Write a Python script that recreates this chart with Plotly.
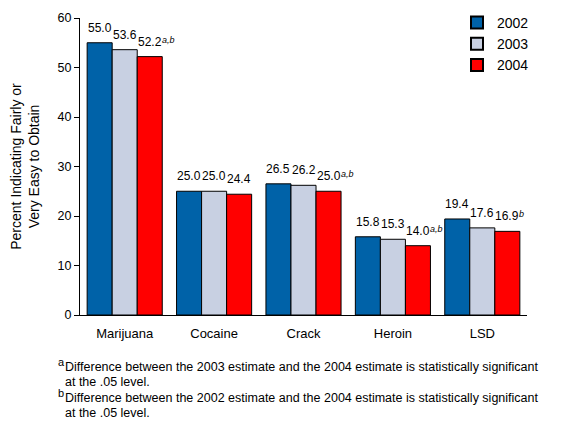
import plotly.graph_objects as go

categories = ["Marijuana", "Cocaine", "Crack", "Heroin", "LSD"]
years = ["2002", "2003", "2004"]
v2002 = [55.0, 25.0, 26.5, 15.8, 19.4]
v2003 = [53.6, 25.0, 26.2, 15.3, 17.6]
v2004 = [52.2, 24.4, 25.0, 14.0, 16.9]
sup2002 = ["", "", "", "", ""]
sup2003 = ["", "", "", "", ""]
sup2004 = ["a,b", "", "a,b", "a,b", "b"]
colors = ["#0062A8", "#C8D0E2", "#FF0000"]

L, T, W, H = 72, 10, 447, 297
OFF = 8  # page body margin
BARGAP = 0.16
BAR_PX = W / len(categories) * (1 - BARGAP) / 3


def px(xp):
    return ((xp - OFF) - L) / W


def py(yp):
    return (T + H - (yp - OFF)) / H


fig = go.Figure()
series = [(years[0], v2002, colors[0], sup2002),
          (years[1], v2003, colors[1], sup2003),
          (years[2], v2004, colors[2], sup2004)]
for i, (yr, vals, col, sups) in enumerate(series):
    fig.add_trace(go.Bar(
        x=categories, y=vals, name=yr,
        marker=dict(color=col, line=dict(color="black", width=1)),
    ))
    off = (i - 1) * BAR_PX
    for c, v, s in zip(categories, vals, sups):
        fig.add_annotation(x=c, y=v, xref="x", yref="y", text=f"{v:.1f}",
                           showarrow=False, xanchor="center", yanchor="bottom",
                           xshift=off, yshift=6, font=dict(size=12))
        if s:
            fig.add_annotation(x=c, y=v, xref="x", yref="y", text=f"<i>{s}</i>",
                               showarrow=False, xanchor="left", yanchor="bottom",
                               xshift=off + 10, yshift=10, font=dict(size=9))

fig.update_layout(
    width=575, height=426,
    margin=dict(l=L, r=575 - L - W, t=T, b=426 - T - H, autoexpand=False),
    paper_bgcolor="white", plot_bgcolor="white",
    barmode="group", bargap=BARGAP, bargroupgap=0,
    font=dict(family="Liberation Sans, Arial", size=12, color="black"),
    legend=dict(x=px(457), y=py(7), xanchor="left", yanchor="top",
                font=dict(size=14), bgcolor="rgba(0,0,0,0)",
                itemsizing="constant", tracegroupgap=0),
    showlegend=True,
)
fig.update_yaxes(range=[0, 60], dtick=10, showgrid=False, showline=True,
                 linecolor="black", linewidth=1, ticks="outside", ticklen=5,
                 tickcolor="black", tickfont=dict(size=12.5),
                 title=dict(text="Percent Indicating Fairly or<br>Very Easy to Obtain",
                            font=dict(size=14), standoff=14))
fig.update_xaxes(showline=True, linecolor="black", linewidth=1, showgrid=False,
                 ticks="", tickfont=dict(size=13), ticklabelstandoff=6)

foot = [
    ("a", "Difference between the 2003 estimate and the 2004 estimate is statistically significant", 367),
    (None, "at the .05 level.", 382),
    ("b", "Difference between the 2002 estimate and the 2004 estimate is statistically significant", 398),
    (None, "at the .05 level.", 413),
]
for sup, text, ypx in foot:
    fig.add_annotation(xref="paper", yref="paper", x=px(63), y=py(ypx),
                       xanchor="left", yanchor="middle",
                       text=text, showarrow=False, font=dict(size=12.5))
    if sup:
        fig.add_annotation(xref="paper", yref="paper", x=px(56), y=py(ypx - 5),
                           xanchor="left", yanchor="middle",
                           text=sup, showarrow=False, font=dict(size=11))

fig.write_html("out.html")
